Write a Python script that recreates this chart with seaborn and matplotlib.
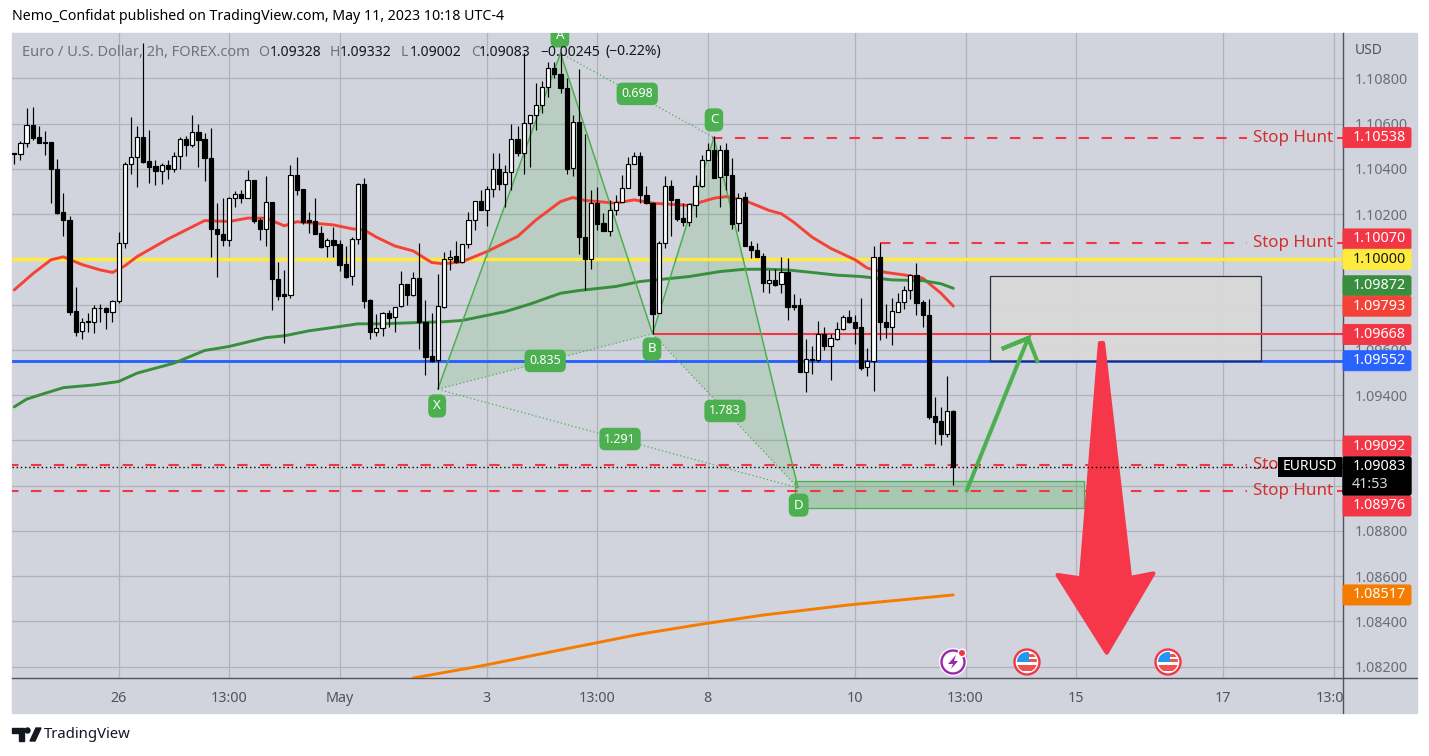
"""
EURUSD 2h chart with a bullish/bearish harmonic drawing, TradingView style.
Prices are stored in 1e-5 units (pipettes) and divided down when plotted.
"""

import numpy as np
import pandas as pd
import matplotlib.pyplot as plt
import matplotlib.patches as mpatches
from matplotlib.transforms import Affine2D
import seaborn as sns

W, H = 1429, 756

PANEL = "#d1d4dc"
GRID = "#b0b3bc"
AXIS_DARK = "#50535e"
TEXT_GREY = "#6a6d78"
RED = "#f23645"
GREEN = "#4caf50"

# candles, one entry per 2h bar
opens = [
    110469, 110465, 110513, 110593, 110540, 110518, 110518, 110398, 110208, 110173, 109771, 109682, 109728, 109725, 109787, 109784, 109769, 109814, 110071, 110420,
    110451, 110540, 110434, 110413, 110392, 110417, 110397, 110456, 110531, 110507, 110562, 110531, 110447, 110133, 110111, 110087, 110269, 110289, 110269, 110350,
    110174, 110136, 110252, 109912, 109846, 109844, 110372, 110310, 110173, 110168, 110115, 110057, 110085, 110068, 109980, 109925, 110089, 110332, 109819, 109677,
    109696, 109762, 109743, 109793, 109890, 109844, 109917, 109722, 109572, 109553, 109791, 110001, 110014, 109987, 110067, 110173, 110257, 110217, 110310, 110398,
    110331, 110385, 110531, 110468, 110602, 110637, 110681, 110761, 110845, 110818, 110756, 110403, 110606, 110098, 110003, 110248, 110160, 110127, 110217, 110252,
    110314, 110420, 110456, 110283, 110248, 109762, 110071, 110325, 110267, 110183, 110163, 110242, 110322, 110438, 110482, 110363, 110484, 110372, 110160, 110275,
    110059, 110042, 110015, 109897, 109909, 109889, 109943, 109797, 109797, 109500, 109559, 109553, 109669, 109619, 109650, 109691, 109744, 109724, 109702, 109522,
    109550, 110011, 109722, 109703, 109769, 109811, 109864, 109930, 109812, 109753, 109308, 109285, 109226, 109328,
]
highs = [
    110469, 110521, 110668, 110672, 110590, 110566, 110518, 110442, 110292, 110192, 109877, 109740, 109762, 109799, 109803, 109791, 109821, 110120, 110432, 110628,
    110587, 110955, 110572, 110440, 110425, 110440, 110476, 110540, 110543, 110637, 110599, 110557, 110579, 110248, 110270, 110275, 110300, 110307, 110395, 110351,
    110182, 110369, 110252, 109990, 109953, 110417, 110453, 110310, 110210, 110270, 110148, 110093, 110142, 110086, 110059, 110098, 110339, 110359, 109824, 109759,
    109769, 109774, 109791, 109948, 109890, 109946, 110071, 109821, 109762, 109934, 110032, 110042, 110079, 110067, 110211, 110257, 110307, 110322, 110469, 110469,
    110417, 110599, 110587, 110911, 110638, 110778, 110786, 110874, 110874, 110911, 110800, 110638, 110840, 110554, 110307, 110319, 110204, 110260, 110285, 110372,
    110454, 110472, 110476, 110322, 110255, 110083, 110369, 110351, 110267, 110248, 110248, 110372, 110462, 110513, 110543, 110506, 110513, 110447, 110292, 110297,
    110082, 110071, 110027, 109953, 109956, 110012, 110006, 109847, 109828, 109649, 109615, 109728, 109703, 109671, 109724, 109755, 109777, 109755, 109828, 109607,
    110059, 110071, 109803, 109828, 109850, 109883, 109936, 109983, 109821, 109824, 109391, 109347, 109484, 109332,
]
lows = [
    110422, 110437, 110498, 110525, 110512, 110459, 110251, 110199, 110101, 109756, 109659, 109647, 109681, 109674, 109725, 109691, 109725, 109806, 110048, 110375,
    110319, 110425, 110336, 110328, 110331, 110356, 110388, 110398, 110457, 110498, 110406, 110344, 110012, 109924, 110059, 110061, 110233, 110251, 110269, 110160,
    110086, 110059, 109774, 109821, 109632, 109830, 110285, 110157, 110115, 110113, 110051, 110011, 110012, 109950, 109917, 109887, 110068, 109783, 109650, 109659,
    109662, 109700, 109677, 109791, 109797, 109836, 109603, 109488, 109548, 109426, 109784, 109951, 109983, 109983, 110052, 110130, 110216, 110149, 110277, 110307,
    110233, 110307, 110457, 110378, 110410, 110572, 110646, 110719, 110800, 110734, 110375, 110370, 110023, 109865, 109959, 110130, 110123, 110101, 110195, 110252,
    110314, 110420, 110248, 110245, 109671, 109762, 110049, 110101, 110171, 110148, 110149, 110189, 110319, 110437, 110359, 110233, 110307, 110133, 110123, 110057,
    110004, 110009, 109856, 109853, 109883, 109853, 109732, 109777, 109500, 109414, 109494, 109548, 109600, 109467, 109644, 109688, 109718, 109626, 109509, 109485,
    109419, 109644, 109651, 109622, 109765, 109780, 109824, 109755, 109703, 109296, 109185, 109180, 109217, 109002,
]
closes = [
    110465, 110513, 110593, 110538, 110512, 110512, 110397, 110205, 110173, 109768, 109681, 109725, 109725, 109784, 109784, 109769, 109814, 110071, 110420, 110451,
    110540, 110432, 110410, 110392, 110416, 110397, 110456, 110531, 110507, 110562, 110529, 110447, 110132, 110110, 110087, 110270, 110288, 110269, 110350, 110171,
    110136, 110252, 109911, 109840, 109840, 110372, 110308, 110167, 110166, 110114, 110055, 110085, 110065, 109977, 109922, 110089, 110332, 109818, 109677, 109696,
    109762, 109741, 109791, 109890, 109843, 109917, 109721, 109570, 109551, 109793, 110001, 110012, 109987, 110067, 110173, 110257, 110216, 110310, 110398, 110331,
    110385, 110531, 110468, 110602, 110637, 110681, 110761, 110845, 110817, 110755, 110401, 110605, 110098, 110003, 110248, 110158, 110126, 110217, 110252, 110314,
    110420, 110457, 110282, 110248, 109759, 110071, 110322, 110263, 110180, 110163, 110245, 110322, 110438, 110482, 110361, 110482, 110372, 110158, 110273, 110057,
    110040, 110012, 109897, 109908, 109887, 109943, 109791, 109791, 109500, 109559, 109553, 109669, 109618, 109651, 109691, 109744, 109721, 109697, 109520, 109551,
    110011, 109721, 109703, 109771, 109811, 109864, 109930, 109809, 109752, 109305, 109283, 109226, 109329, 109083,
]

red_ma_bars = [0, 3, 6, 8, 11, 14, 16, 18, 20, 25, 31, 35, 38, 41, 44, 46, 52, 55, 57, 59, 62, 65, 68, 70, 73, 77, 82, 85, 89, 91, 93, 98, 101, 104, 110, 114, 116, 119, 123, 125, 127, 130, 133, 137, 139, 142, 145, 148, 151, 153]
red_ma = [109865, 109936, 109998, 110011, 109977, 109953, 109942, 109971, 110012, 110089, 110171, 110167, 110182, 110182, 110148, 110166, 110152, 110135, 110130, 110098, 110059, 110037, 109986, 109980, 109990, 110034, 110101, 110174, 110255, 110273, 110260, 110248, 110263, 110248, 110238, 110270, 110277, 110260, 110216, 110201, 110164, 110098, 110049, 109998, 109961, 109942, 109931, 109917, 109850, 109793]
green_ma_bars = [0, 2, 5, 8, 13, 17, 20, 26, 31, 35, 41, 44, 48, 52, 56, 60, 66, 70, 73, 80, 84, 89, 92, 98, 102, 110, 115, 119, 123, 126, 130, 134, 138, 143, 148, 151, 153]
green_ma = [109348, 109382, 109408, 109433, 109445, 109460, 109497, 109541, 109597, 109615, 109654, 109662, 109684, 109699, 109715, 109715, 109721, 109724, 109730, 109769, 109802, 109850, 109862, 109880, 109902, 109924, 109946, 109956, 109956, 109953, 109942, 109930, 109924, 109909, 109906, 109892, 109872]
orange_ma_bars = [65, 76, 89, 102, 112, 122, 136, 153]
orange_ma = [108150, 108203, 108274, 108344, 108388, 108428, 108473, 108517]

# axis ticks
price_ticks = [108200, 108400, 108600, 108800, 109000, 109200, 109400, 109600, 109800, 110000, 110200, 110400, 110600, 110800]
time_ticks = [17, 35, 53, 77, 95, 113, 137, 155, 173, 197, 215]
time_labels = ["26", "13:00", "May", "3", "13:00", "8", "10", "13:00", "15", "17", "13:00"]

# harmonic pattern pivots: X A B C D
pattern_names = ["X", "A", "B", "C", "D"]
pattern_bars = [69, 89, 104, 114, 127.7]
pattern_prices = [109426, 110911, 109671, 110538, 108990]
pattern_label_bars = [68.9, 88.9, 103.9, 114, 127.8]
pattern_label_prices = [109352, 110987, 109604, 110616, 108914]
ratio_texts = ["0.835", "0.698", "1.291", "1.783"]
ratio_bars = [86.5, 101.5, 98.7, 115.8]
ratio_prices = [109551, 110731, 109206, 109330]

# levels and hand drawings
stop_levels = [110538, 110070, 109092, 108976]
stop_starts = [113.7, 141.1, -1, -1]
tag_texts = ["1.10538", "1.10070", "1.10000", "1.09872", "1.09793", "1.09668", "1.09552", "1.09092", "1.08976", "1.08517"]
tag_places = [110538, 110090, 110000, 109883, 109793, 109668, 109552, 109175, 108910, 108517]
tag_colors = [RED, RED, "#ffeb3b", "#388e3c", "#f44336", RED, "#2962ff", RED, RED, "#f57c00"]
tag_text_colors = ["white", "white", "#131722", "white", "white", "white", "white", "white", "white", "white"]

big_arrow_bars = [176.9, 173.8, 170.0, 178.0, 185.6, 181.8, 177.4]
big_arrow_prices = [109630, 108590, 108605, 108262, 108612, 108592, 109630]
small_arrow_bars = [155.1, 165.2, 160.9, 165.2, 166.8]
small_arrow_prices = [108972, 109652, 109604, 109652, 109542]


def p(values):
    return np.asarray(values, dtype=float) / 1e5


sns.set_theme(style="white", rc={"axes.facecolor": PANEL, "figure.facecolor": "white"})
plt.rcParams["font.family"] = ["Noto Sans", "DejaVu Sans"]

fig = plt.figure(figsize=(W / 100, H / 100), dpi=100)
px = Affine2D().scale(1, -1).translate(0, H)  # top-left pixel coordinates for page furniture

fig.add_artist(mpatches.Rectangle((12, 33), 1405, 680, transform=px, color=PANEL, zorder=-5))
ax = fig.add_axes([12 / W, (H - 678) / H, 1331 / W, 645 / H])
ax.set_xlim(-0.375, 216.5)
ax.set_ylim(1.0815, 1.11)

for s in ["left", "top"]:
    ax.spines[s].set_visible(False)
for s in ["right", "bottom"]:
    ax.spines[s].set_color(AXIS_DARK)
    ax.spines[s].set_linewidth(1.0)

ax.set_axisbelow(True)
ax.yaxis.tick_right()
ax.set_yticks(p(price_ticks))
ax.set_yticklabels([f"{v / 1e5:.5f}" for v in price_ticks])
ax.set_xticks(time_ticks)
ax.set_xticklabels(time_labels)
ax.grid(True, color=GRID, linewidth=0.9)
ax.tick_params(axis="y", length=0, pad=8.5, labelsize=10.3, labelcolor=TEXT_GREY)
ax.tick_params(axis="x", length=0, pad=9.5, labelsize=10.3, labelcolor=AXIS_DARK)
xlabels = ax.get_xticklabels()
xlabels[2].set_fontweight("bold")
# last time label runs into the price scale and gets cut there
xlabels[-1].set_clip_on(True)
xlabels[-1].set_clip_box(mpatches.Rectangle((0, 0), 1343, H).get_extents())

# pattern fill first so everything else sits on it
ax.fill(np.take(pattern_bars, [0, 1, 2]), p(np.take(pattern_prices, [0, 1, 2])), color=GREEN, alpha=0.18, lw=0, zorder=1.2)
ax.fill(np.take(pattern_bars, [2, 3, 4]), p(np.take(pattern_prices, [2, 3, 4])), color=GREEN, alpha=0.18, lw=0, zorder=1.2)
ax.plot(pattern_bars, p(pattern_prices), color=GREEN, lw=1.1, zorder=3.2)
for a, b in [(0, 2), (1, 3), (0, 4), (2, 4)]:
    ax.plot([pattern_bars[a], pattern_bars[b]], p([pattern_prices[a], pattern_prices[b]]),
            color=GREEN, lw=0.9, ls=(0, (1, 2)), zorder=3.2)

# levels
ax.axhline(1.1, color="#ffeb3b", lw=2.5, zorder=2)
ax.axhline(1.09552, color="#2962ff", lw=2.1, zorder=2)
ax.hlines(1.09668, pattern_bars[2], 216.5, color=RED, lw=1.5, zorder=2.1)
for level, start in zip(stop_levels, stop_starts):
    ax.hlines(p(level), start, 200.8, color=RED, lw=1.5, ls=(0, (5, 6)), zorder=2.1)
    ax.hlines(p(level), 215.5, 216.5, color=RED, lw=1.5, zorder=2.1)
    ax.text(214.9, p(level), "Stop Hunt", color="#d32f2f", ha="right", va="center", fontsize=12.2, zorder=2.2)

# boxes
ax.add_patch(mpatches.Rectangle((159.0, 1.09552), 44.1, 0.00374, facecolor="#d9d9d9", alpha=0.95, edgecolor="none", zorder=1.5))
ax.add_patch(mpatches.Rectangle((159.0, 1.09552), 44.1, 0.00374, fill=False, edgecolor="#2a2e39", lw=0.9, zorder=2.05))
ax.add_patch(mpatches.Rectangle((127.2, 1.08901), 47.1, 0.00119, facecolor=GREEN, alpha=0.3, edgecolor="none", zorder=1.5))
ax.add_patch(mpatches.Rectangle((127.2, 1.08901), 47.1, 0.00119, fill=False, edgecolor=GREEN, lw=0.9, zorder=2.05))

# moving averages
for bars, vals, col in [(red_ma_bars, red_ma, "#f44336"), (green_ma_bars, green_ma, "#388e3c"), (orange_ma_bars, orange_ma, "#f57c00")]:
    sns.lineplot(x=bars, y=p(vals), ax=ax, color=col, linewidth=2.1, estimator=None, sort=False, zorder=3)
ax.set_xlabel("")
ax.set_ylabel("")

# candles
candles = pd.DataFrame({"open": p(opens), "high": p(highs), "low": p(lows), "close": p(closes)})
candles["bar"] = candles.index
candles["up"] = candles["close"] >= candles["open"]
ax.vlines(candles["bar"], candles["low"], candles["high"], color="black", lw=0.85, zorder=4)
body_low = candles[["open", "close"]].min(axis=1)
body_height = (candles["close"] - candles["open"]).abs().clip(lower=0.00002)
ax.bar(candles["bar"], body_height, bottom=body_low, width=0.68,
       color=np.where(candles["up"], "white", "black"), edgecolor="black", linewidth=0.85, zorder=4.1)

# hand drawn arrows
ax.fill(big_arrow_bars, p(big_arrow_prices), facecolor="#f63749", edgecolor="#f63749", lw=3, joinstyle="round", zorder=6)
ax.plot(small_arrow_bars, p(small_arrow_prices), color=GREEN, lw=2.9, solid_capstyle="butt", solid_joinstyle="miter", zorder=6)

# last price line
ax.axhline(1.09083, color="black", lw=1.0, ls=(0, (1, 2)), zorder=7)

# pattern letters and ratios
label_box = dict(boxstyle="round,pad=0.38,rounding_size=0.45", facecolor=GREEN, edgecolor="none")
for name, bar, price in zip(pattern_names, pattern_label_bars, pattern_label_prices):
    ax.text(bar, p(price), name, color="white", fontsize=9.6, ha="center", va="center", bbox=label_box, clip_on=True, zorder=8)
for name, bar, price in zip(ratio_texts, ratio_bars, ratio_prices):
    ax.text(bar, p(price), name, color="white", fontsize=9, ha="center", va="center", bbox=label_box, zorder=8)

# price tags on the scale
for text, place, col, tcol in zip(tag_texts, tag_places, tag_colors, tag_text_colors):
    y = H - ax.transData.transform((0, p(place)))[1]
    ax.add_patch(mpatches.FancyBboxPatch((1343, y - 10), 68, 20, boxstyle="round,pad=0,rounding_size=2",
                                         transform=px, facecolor=col, edgecolor=col, lw=0.7, clip_on=False, zorder=9))
    ax.text(1379, y, text, transform=px, color=tcol, fontsize=10.3, ha="center", va="center", clip_on=False, zorder=10)
ax.add_patch(mpatches.FancyBboxPatch((1343, 457), 68, 38, boxstyle="round,pad=0,rounding_size=2",
                                     transform=px, facecolor="black", edgecolor="black", clip_on=False, zorder=9.5))
ax.text(1379, 466, "1.09083", transform=px, color="white", fontsize=10.3, ha="center", va="center", clip_on=False, zorder=10)
ax.text(1370, 484, "41:53", transform=px, color="#d8d8d8", fontsize=10.3, ha="center", va="center", clip_on=False, zorder=10)
ax.add_patch(mpatches.Rectangle((1278, 457), 64, 20, transform=px, facecolor="black", edgecolor="none", clip_on=False, zorder=9.5))
ax.text(1310, 467, "EURUSD", transform=px, color="white", fontsize=10, ha="center", va="center", clip_on=False, zorder=10)

# event icons
ax.add_patch(mpatches.Circle((953, 662), 14, transform=px, facecolor="white", edgecolor="none", clip_on=False, zorder=9))
ax.add_patch(mpatches.Circle((953, 662), 11.5, transform=px, facecolor="white", edgecolor="#9c27b0", lw=1.7, clip_on=False, zorder=9))
ax.add_patch(mpatches.Polygon([(956, 655), (948, 664), (953, 664), (951, 669), (958, 661), (954, 661)], transform=px,
                              facecolor="#9c27b0", edgecolor="none", clip_on=False, zorder=9))
ax.add_patch(mpatches.Circle((962, 653), 4.5, transform=px, facecolor="white", edgecolor="none", clip_on=False, zorder=9))
ax.add_patch(mpatches.Circle((962, 653), 3, transform=px, facecolor=RED, edgecolor="none", clip_on=False, zorder=9))
for cx in [1027, 1168]:
    ring = mpatches.Circle((cx, 662), 12.5, transform=px, facecolor="white", edgecolor=RED, lw=1.7, clip_on=False, zorder=9)
    ax.add_patch(ring)
    inner = mpatches.Circle((cx, 662), 10, transform=px)
    for x0, y0, w, h, col in [(cx - 10, 652, 12, 10, "#2196f3"), (cx + 2, 654, 8, 3, "#ef5350"), (cx + 2, 659, 8, 3, "#ef5350"), (cx - 10, 665, 20, 6, "#ef5350")]:
        stripe = mpatches.Rectangle((x0, y0), w, h, transform=px, facecolor=col, edgecolor="none", clip_on=True, zorder=9.1)
        ax.add_patch(stripe)
        stripe.set_clip_path(inner)

# page text


def page_text(x, y, text, **kw):
    kw.setdefault("va", "center")
    kw.setdefault("fontsize", 10.3)
    fig.text(x / W, 1 - y / H, text, **kw)


page_text(12, 16, "Nemo_Confidat published on TradingView.com, May 11, 2023 10:18 UTC-4", color="black", fontsize=10.2)
page_text(22, 52, "Euro / U.S. Dollar, 2h, FOREX.com", color="#6f727d", fontsize=10.55)
for x, text, col in [(258, "O", "#6f727d"), (270, "1.09328", "#131722"), (330, "H", "#6f727d"), (340, "1.09332", "#131722"),
                     (401, "L", "#6f727d"), (410, "1.09002", "#131722"), (471, "C", "#6f727d"), (479, "1.09083", "#131722"),
                     (540, "\u22120.00245", "#131722"), (605, "(\u22120.22%)", "#131722")]:
    page_text(x, 52, text, color=col, fontsize=10.1, zorder=8)
page_text(1355, 50, "USD", color="#50535e", fontsize=10)
page_text(44, 735, "TradingView", color="#131722", fontsize=10.7)

# bottom axis runs through to the panel edge, price axis runs down to the frame
fig.add_artist(plt.Line2D([1343, 1417], [678, 678], transform=px, color=AXIS_DARK, lw=1.0))
fig.add_artist(plt.Line2D([1343, 1343], [678, 713], transform=px, color=AXIS_DARK, lw=1.0))

# logo
fig.add_artist(mpatches.Polygon([(12, 728), (24, 728), (24, 741), (19, 741), (19, 733), (12, 733)], transform=px, color="#131722"))
fig.add_artist(mpatches.Circle((27.5, 730.5), 2.5, transform=px, color="#131722"))
fig.add_artist(mpatches.Polygon([(30, 741), (36, 728), (41, 728), (35, 741)], transform=px, color="#131722"))

fig.savefig("out.png", dpi=100)
